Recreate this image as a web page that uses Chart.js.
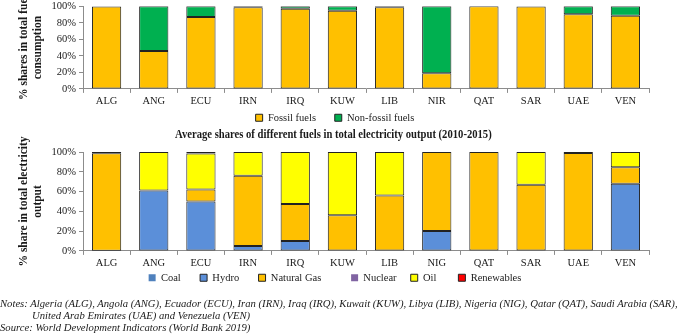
<!DOCTYPE html>
<html>
<head>
<meta charset="utf-8">
<script src="https://cdn.jsdelivr.net/npm/chart.js@4"></script>
<style>
  body { margin: 0; background: #fff; width: 685px; height: 335px; overflow: hidden; position: relative; font-family: 'Liberation Serif', 'Times New Roman', serif; color: #1a1a1a; }
  .box { position: absolute; left: 0; width: 685px; }
  #title2 { position: absolute; left: 175px; top: 128px; font-weight: bold; font-size: 11.5px; white-space: nowrap; transform-origin: 0 0; z-index: 2; }
  #notes { position: absolute; left: 0; top: 296.5px; font-style: italic; font-size: 11px; line-height: 12.3px; white-space: nowrap; transform-origin: 0 0; }
  #notes .ind { padding-left: 33px; }
</style>
</head>
<body>
<div class="box" style="top:-3px;height:136px"><canvas id="fuelChart"></canvas></div>
<div class="box" style="top:126px;height:167px"><canvas id="elecChart"></canvas></div>
<div id="title2">Average shares of different fuels in total electricity output (2010-2015)</div>
<div id="notes">
  <div id="noteLine1">Notes: Algeria (ALG), Angola (ANG), Ecuador (ECU), Iran (IRN), Iraq (IRQ), Kuwait (KUW), Libya (LIB), Nigeria (NIG), Qatar (QAT), Saudi Arabia (SAR),</div>
  <div class="ind">United Arab Emirates (UAE) and Venezuela (VEN)</div>
  <div>Source: World Development Indicators (World Bank 2019)</div>
</div>
<script>
// données
const countriesTop = ['ALG', 'ANG', 'ECU', 'IRN', 'IRQ', 'KUW', 'LIB', 'NIR', 'QAT', 'SAR', 'UAE', 'VEN'];
const fossilFuels = [99.9, 46, 87, 99, 97, 94.5, 99, 19, 100, 99.7, 90.5, 88.5];
const nonFossilFuels = [0.1, 54, 13, 1, 3, 5.5, 1, 81, 0, 0.3, 9.5, 11.5];

const countriesBottom = ['ALG', 'ANG', 'ECU', 'IRN', 'IRQ', 'KUW', 'LIB', 'NIG', 'QAT', 'SAR', 'UAE', 'VEN'];
const coal = [0, 0, 0, 0, 0, 0, 0, 0, 0, 0, 0, 0];
const hydro = [0.2, 61, 50, 5, 10, 0, 0, 20, 0, 0, 0, 68];
const naturalGas = [98.5, 0, 12, 71, 37.5, 36, 56, 80, 100, 67, 99, 16.5];
const nuclear = [0, 0, 0, 0, 0, 0, 0, 0, 0, 0, 0, 0];
const oil = [1.3, 39, 36.5, 24, 52.5, 64, 44, 0, 0, 33, 1, 15.5];
const renewables = [0, 0, 1.5, 0, 0, 0, 0, 0, 0, 0, 0, 0];

const yTicks = [0, 20, 40, 60, 80, 100];

const serif = "'Liberation Serif', 'Times New Roman', serif";
const dark = '#1a1a1a';
const axisGrey = '#8c8c8c';

function noZero(arr) {
  return arr.map(v => (v === 0 ? null : v));
}

function ds(label, data, color, withBorder, gap) {
  return {
    label: label,
    data: noZero(data),
    backgroundColor: color,
    borderColor: '#222',
    borderWidth: withBorder ? 1 : 0,
    borderSkipped: false,
    barPercentage: 0.62,
    categoryPercentage: 1,
    legendGap: gap
  };
}

// espaces après chaque libellé pour écarter les items sans grossir la légende
function spacedLabels(chart) {
  const items = Chart.defaults.plugins.legend.labels.generateLabels(chart);
  items.forEach((it, i) => {
    const d = chart.data.datasets[i];
    it.lineWidth = d.borderWidth;
    it.text = it.text + ' '.repeat(d.legendGap || 0);
  });
  return items;
}

function options(titleLines, legendPad) {
  return {
    responsive: true,
    maintainAspectRatio: false,
    animation: false,
    layout: { padding: { left: 21, right: 36, top: 0, bottom: 0 } },
    plugins: {
      legend: {
        position: 'bottom',
        labels: {
          color: dark,
          font: { family: serif, size: 10.5 },
          boxWidth: 7,
          boxHeight: 7,
          padding: legendPad,
          generateLabels: spacedLabels
        }
      },
      tooltip: { enabled: false }
    },
    scales: {
      x: {
        stacked: true,
        grid: { display: true, drawOnChartArea: false, drawTicks: true, tickLength: 4, color: axisGrey, offset: true },
        border: { color: axisGrey },
        ticks: { color: dark, font: { family: serif, size: 10.5 }, padding: 2, autoSkip: false, maxRotation: 0 }
      },
      y: {
        stacked: true,
        min: 0,
        max: 100,
        afterBuildTicks: axis => { axis.ticks = yTicks.map(v => ({ value: v })); },
        afterFit: axis => { axis.width = 62; },
        grid: { display: true, drawOnChartArea: false, drawTicks: true, tickLength: 4, color: axisGrey },
        border: { color: axisGrey },
        ticks: { color: dark, font: { family: serif, size: 10.5 }, padding: 3, autoSkip: false, callback: v => v + '%' },
        title: {
          display: true,
          text: titleLines,
          color: dark,
          font: { family: serif, size: 11.5, weight: 'bold' },
          padding: { top: -4, bottom: 0 }
        }
      }
    }
  };
}

const topOpts = options(['% shares in total fuel', 'consumption'], 3);

new Chart(document.getElementById('fuelChart'), {
  type: 'bar',
  data: {
    labels: countriesTop,
    datasets: [
      ds('Fossil fuels', fossilFuels, '#ffc000', true, 6),
      ds('Non-fossil fuels', nonFossilFuels, '#00b050', true, 0)
    ]
  },
  options: topOpts
});

const bottomOpts = options(['% share in total electricity', 'output'], 1);
bottomOpts.layout.padding.top = 26;

new Chart(document.getElementById('elecChart'), {
  type: 'bar',
  data: {
    labels: countriesBottom,
    datasets: [
      ds('Coal', coal, '#4f81bd', false, 7),
      ds('Hydro', hydro, '#5b8fd9', true, 7),
      ds('Natural Gas', naturalGas, '#ffc000', true, 11),
      ds('Nuclear', nuclear, '#8064a2', false, 5),
      ds('Oil', oil, '#ffff00', true, 8),
      ds('Renewables', renewables, '#ff0000', true, 0)
    ]
  },
  options: bottomOpts
});

// ajuste la largeur des textes html sur celle de l'original
function fitWidth(el, target) {
  const w = el.scrollWidth;
  if (w > 0) el.style.transform = 'scaleX(' + (target / w) + ')';
}
fitWidth(document.getElementById('title2'), 317);
const notes = document.getElementById('notes');
const w1 = document.getElementById('noteLine1').scrollWidth;
notes.style.transform = 'scaleX(' + (678 / w1) + ')';
</script>
</body>
</html>
